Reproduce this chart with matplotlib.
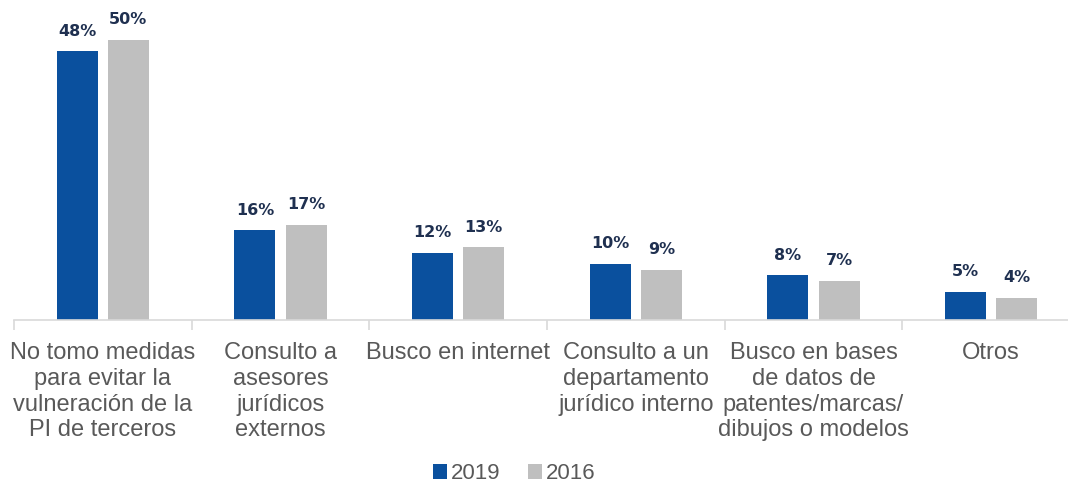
import matplotlib.pyplot as plt
import numpy as np

# data
categories = ["No tomo medidas\npara evitar la\nvulneración de la\nPI de terceros",
              "Consulto a\nasesores\njurídicos\nexternos",
              "Busco en internet",
              "Consulto a un\ndepartamento\njurídico interno",
              "Busco en bases\nde datos de\npatentes/marcas/\ndibujos o modelos",
              "Otros"]
vals_2019 = [48, 16, 12, 10, 8, 5]
vals_2016 = [50, 17, 13, 9, 7, 4]
series_names = ["2019", "2016"]

blue = "#0A509E"
grey = "#BFBFBF"
label_col = "#1F3050"
text_col = "#595959"

fam = ["Liberation Sans", "DejaVu Sans"]

fig = plt.figure(figsize=(10.68, 4.84), dpi=100)
ax = fig.add_axes([14 / 1068, 164 / 484, 1066 / 1068, 320 / 484])

x = np.arange(len(categories))
w = 0.23
off = 0.144
b1 = ax.bar(x - off, vals_2019, w, color=blue, label=series_names[0])
b2 = ax.bar(x + off, vals_2016, w, color=grey, label=series_names[1])

for bars in (b1, b2):
    for r in bars:
        ax.annotate(f"{r.get_height():.0f}%",
                    (r.get_x() + r.get_width() / 2, r.get_height()),
                    xytext=(0, 9), textcoords="offset points",
                    ha="center", va="bottom", fontsize=11.5, fontweight="bold",
                    color=label_col)

ax.set_xlim(-0.5, len(categories) - 0.5)
ax.set_ylim(0, 57.14)
ax.set_yticks([])
for s in ("top", "right", "left"):
    ax.spines[s].set_visible(False)
ax.spines["bottom"].set_color("#D9D9D9")
ax.spines["bottom"].set_linewidth(1.2)

ax.set_xticks(x)
ax.set_xticklabels(categories, fontsize=17, color=text_col, family=fam,
                   linespacing=1.22, va="top")
ax.tick_params(axis="x", which="major", length=0, pad=16)
ax.set_xticks(np.arange(-0.5, len(categories), 1), minor=True)
ax.tick_params(axis="x", which="minor", length=7, color="#D9D9D9", width=1.2)

leg = fig.legend(loc="center", bbox_to_anchor=(0.4817, 0.021), ncol=2, frameon=False,
                 handlelength=0.6, handleheight=0.6, handletextpad=0.2,
                 columnspacing=1.25, borderpad=0.1, prop={"family": fam, "size": 16})
for t in leg.get_texts():
    t.set_color(text_col)

fig.savefig("out.png", dpi=100)
